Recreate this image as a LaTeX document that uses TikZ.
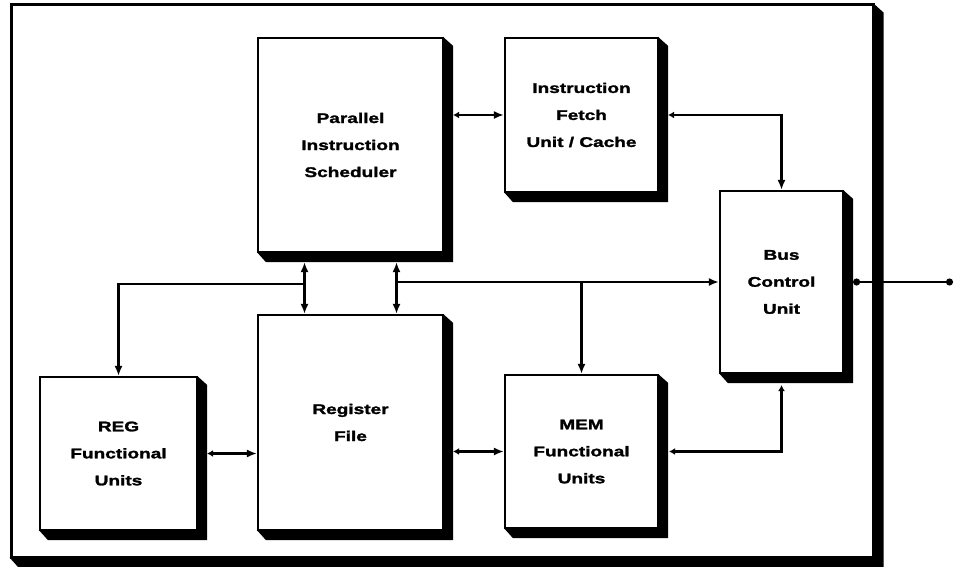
\documentclass[tikz,border=0pt]{standalone}
\usepackage{fontspec}
\newfontfamily\lblfont[FakeStretch=1.36,FakeBold=1.8]{Liberation Sans}
\usetikzlibrary{calc,arrows.meta,backgrounds}
\tikzset{
  blk/.style={draw, line width=2.2pt, fill=white, inner sep=0pt, align=center,
    font={\lblfont\bfseries\fontsize{14pt}{27pt}\selectfont}},
  conn/.style={line width=2.2pt},
  big/.tip={Latex[length=10pt,width=8pt]},
  small/.tip={Latex[length=6pt,width=7pt]},
  dot/.tip={Circle[length=7pt]},
}
\newcommand\shadowof[2][9]{%
  \fill ($(#2.north east)+(-1,0)$) -- ($(#2.north east)+(#1,#1)$)
    -- ($(#2.south east)+(#1,#1)$) -- ($(#2.south west)+(#1,#1)$)
    -- ($(#2.south west)+(0,-1)$) -- ($(#2.south east)+(-1,-1)$) -- cycle;}
\begin{document}
\begin{tikzpicture}[x=1pt,y=-1pt]
\useasboundingbox (0,0) rectangle (958,567);
% outer frame
\node[draw, line width=3pt, minimum width=862pt, minimum height=552pt, inner sep=0pt] (frame) at (442,281) {};
% blocks
\node[blk, minimum width=185pt, minimum height=214pt] (PIS) at (350.5,145) {Parallel\\Instruction\\Scheduler};
\node[blk, minimum width=153pt, minimum height=154pt] (IFU) at (581.5,115) {Instruction\\Fetch\\Unit / Cache};
\node[blk, minimum width=123pt, minimum height=182pt] (BCU) at (781.5,282) {Bus\\Control\\Unit};
\node[blk, minimum width=157pt, minimum height=153pt] (REG) at (118.5,453.5) {REG\\Functional\\Units};
\node[blk, minimum width=185pt, minimum height=215pt] (RF) at (350.5,422.5) {Register\\File};
\node[blk, minimum width=153pt, minimum height=153pt] (MEM) at (581.5,451.5) {MEM\\Functional\\Units};
\coordinate (ext) at (953,282);
\begin{scope}[on background layer]
  \shadowof{frame}
  \shadowof{PIS}\shadowof{IFU}\shadowof{BCU}
  \shadowof{REG}\shadowof{RF}\shadowof{MEM}
\end{scope}
% connectors
\draw[conn, small-big] ($(PIS.east |- IFU.west)+(9,0)$) -- (IFU.west);
\draw[conn, small-big] ($(IFU.east)+(9,0)$) -| (BCU.north);
\draw[conn, big-big] ($(PIS.south)+(-46,9)$) -- ($(RF.north)+(-46,0)$);
\draw[conn, big-big] ($(PIS.south)+(46,9)$) -- ($(RF.north)+(46,0)$);
\draw[conn, -big] ($(PIS.south)+(-46,31)$) -| (REG.north);
\draw[conn, -big] ($(BCU.west -| RF.north)+(46,0)$) -- (BCU.west);
\draw[conn, -big] (MEM.north |- BCU.west) -- (MEM.north);
\draw[conn, small-big] ($(REG.east)+(9,0)$) -- (REG.east -| RF.west);
\draw[conn, small-big] ($(RF.east |- MEM.west)+(9,0)$) -- (MEM.west);
\draw[conn, small-small] ($(MEM.east)+(10,0)$) -| ($(BCU.south)+(0,11)$);
\draw[conn, dot-dot] ($(BCU.east)+(9,0)$) -- (ext);
\end{tikzpicture}
\end{document}
